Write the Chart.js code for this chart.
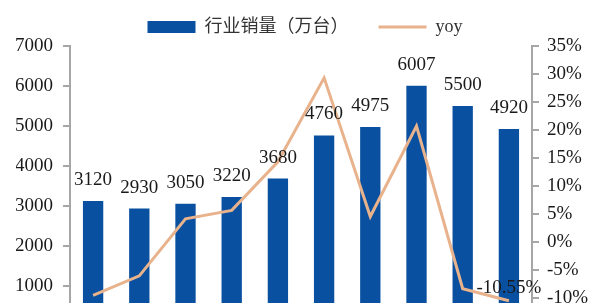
<!DOCTYPE html>
<html>
<head>
<meta charset="utf-8">
<script src="https://cdn.jsdelivr.net/npm/chart.js@4.4.1/dist/chart.umd.min.js"></script>
<style>
  html, body { margin: 0; padding: 0; background: #fff; overflow: hidden; }
</style>
</head>
<body>
<canvas id="chart" width="594" height="347"></canvas>
<script>
// categories are cut off at the bottom of the reference, kept hidden
const years = ["2012", "2013", "2014", "2015", "2016", "2017", "2018", "2019", "2020", "2021"];
const sales = [3120, 2930, 3050, 3220, 3680, 4760, 4975, 6007, 5500, 4920];
const yoy = [-9.6, -6.1, 4.1, 5.6, 14.3, 29.3, 4.5, 20.7, -8.4, -10.55];
const salesTicks = [0, 1000, 2000, 3000, 4000, 5000, 6000, 7000];
const yoyTicks = [-15, -10, -5, 0, 5, 10, 15, 20, 25, 30, 35];

const serif = '"Liberation Serif", "Noto Sans CJK SC", serif';
const axisGray = "#a6a6a6";

const valueLabels = {
  id: "valueLabels",
  afterDatasetsDraw(chart) {
    const ctx = chart.ctx;
    ctx.save();
    ctx.font = "19px " + serif;
    ctx.fillStyle = "#1a1a1a";
    ctx.textAlign = "center";
    ctx.textBaseline = "middle";
    chart.getDatasetMeta(0).data.forEach((bar, i) => {
      ctx.fillText(String(sales[i]), bar.x, bar.y - 21);
    });
    const pts = chart.getDatasetMeta(1).data;
    const last = pts[pts.length - 1];
    ctx.fillText(yoy[yoy.length - 1].toFixed(2) + "%", last.x, last.y - 13);
    ctx.restore();
  },
};

new Chart(document.getElementById("chart").getContext("2d"), {
  type: "bar",
  data: {
    labels: years,
    datasets: [
      {
        type: "bar",
        label: "行业销量（万台）",
        data: sales,
        backgroundColor: "#0a50a1",
        borderWidth: 0,
        barPercentage: 0.44,
        categoryPercentage: 1,
        pointStyle: "rect",
        yAxisID: "y",
        order: 2,
      },
      {
        type: "line",
        label: "yoy",
        data: yoy,
        borderColor: "#e8b38c",
        backgroundColor: "#e8b38c",
        borderWidth: 3,
        pointRadius: 0,
        tension: 0,
        pointStyle: "line",
        yAxisID: "y1",
        order: 1,
      },
    ],
  },
  options: {
    responsive: false,
    animation: false,
    layout: {
      padding: { top: -12, left: 16, right: 0, bottom: 6 },
    },
    plugins: {
      legend: {
        labels: {
          usePointStyle: true,
          pointStyleWidth: 48,
          boxHeight: 12,
          padding: 30,
          color: "#333333",
          font: { family: serif, size: 18 },
          sort: (a, b) => a.datasetIndex - b.datasetIndex,
        },
      },
      tooltip: { enabled: false },
    },
    scales: {
      x: {
        ticks: { display: false },
        grid: { display: false, drawTicks: false },
        border: { display: false },
      },
      y: {
        position: "left",
        min: 0,
        max: 7000,
        afterBuildTicks: (scale) => {
          scale.ticks = salesTicks.map((v) => ({ value: v }));
        },
        afterFit: (scale) => {
          scale.width = 54;
        },
        ticks: {
          color: "#1a1a1a",
          padding: 10,
          font: { family: serif, size: 19 },
          callback: (v) => String(v),
        },
        grid: {
          drawOnChartArea: false,
          drawTicks: true,
          tickLength: 7,
          color: axisGray,
          lineWidth: 2,
        },
        border: { color: axisGray, width: 2 },
      },
      y1: {
        position: "right",
        min: -15,
        max: 35,
        afterBuildTicks: (scale) => {
          scale.ticks = yoyTicks.map((v) => ({ value: v }));
        },
        afterFit: (scale) => {
          scale.width = 62;
        },
        ticks: {
          color: "#1a1a1a",
          padding: 8,
          font: { family: serif, size: 19 },
          callback: (v) => v + "%",
        },
        grid: {
          drawOnChartArea: false,
          drawTicks: true,
          tickLength: 7,
          color: axisGray,
          lineWidth: 2,
        },
        border: { color: axisGray, width: 2 },
      },
    },
  },
  plugins: [valueLabels],
});
</script>
</body>
</html>
